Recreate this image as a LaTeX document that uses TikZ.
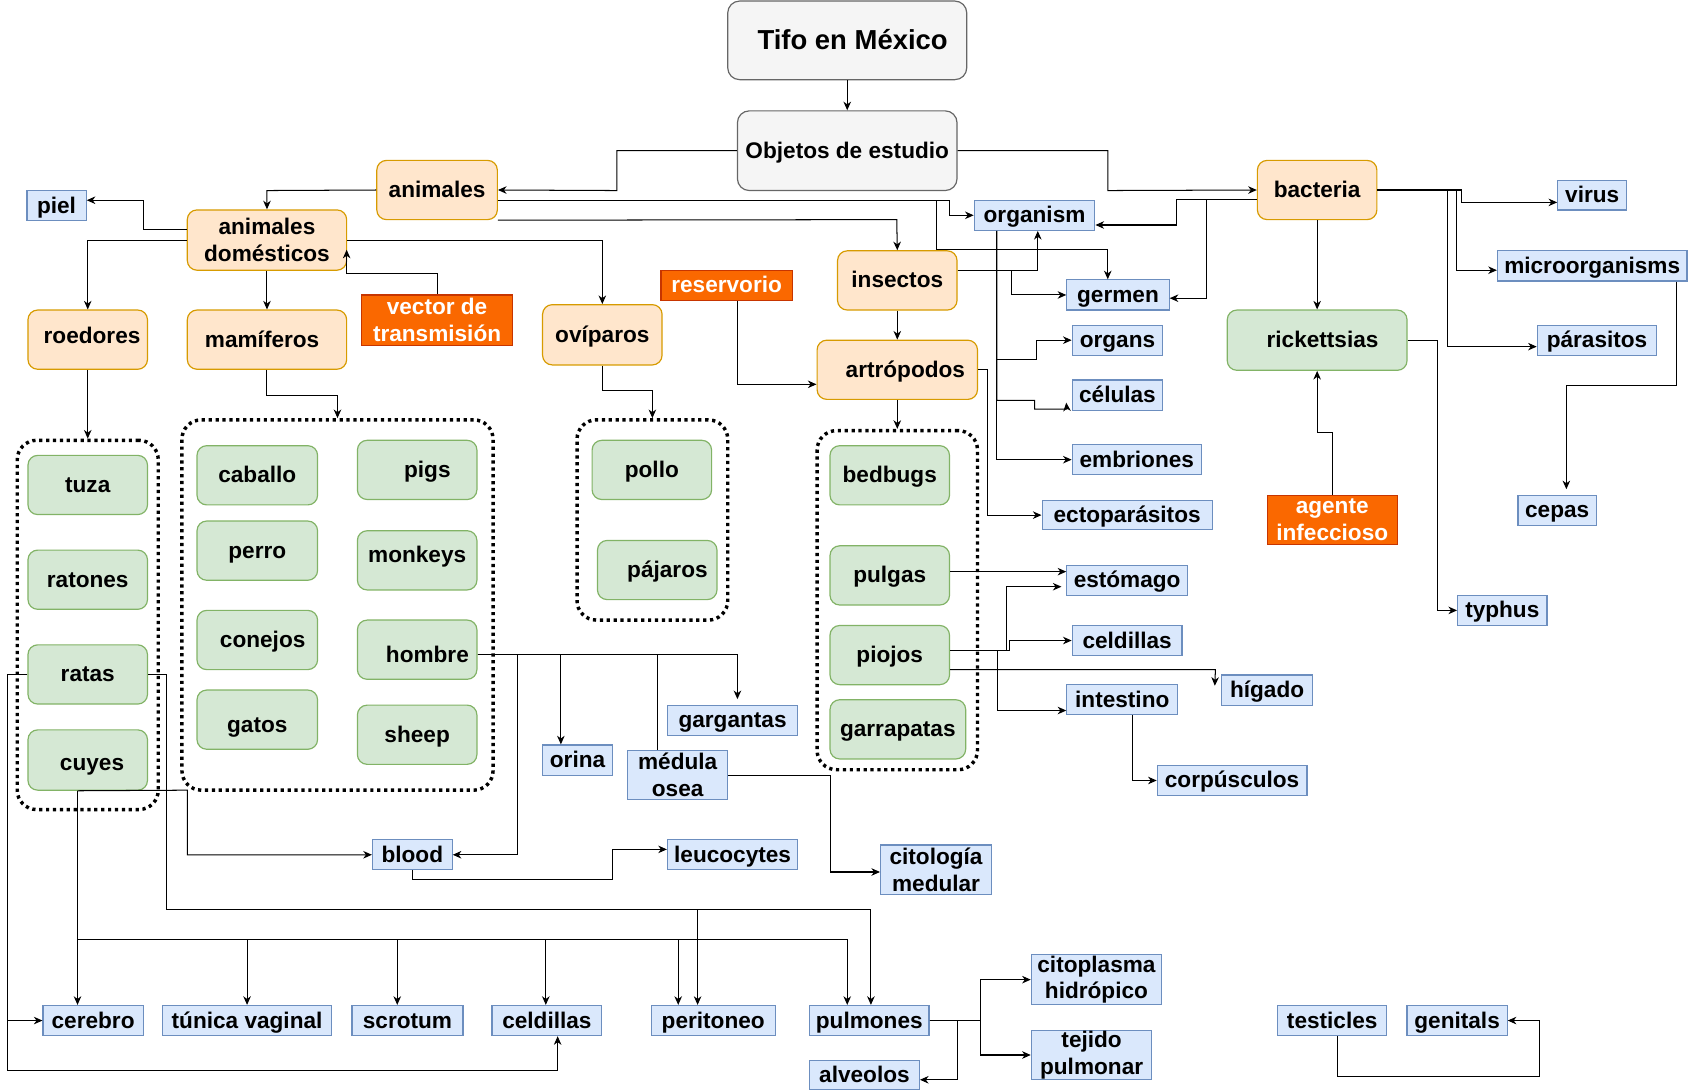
\documentclass[tikz,border=0pt]{standalone}
\usepackage{fontspec}
\setmainfont{Liberation Sans}
\usetikzlibrary{arrows.meta}
\definecolor{grayF}{HTML}{F5F5F5}
\definecolor{grayD}{HTML}{666666}
\definecolor{orF}{HTML}{FFE6CC}
\definecolor{orD}{HTML}{D79B00}
\definecolor{grF}{HTML}{D5E8D4}
\definecolor{grD}{HTML}{82B366}
\definecolor{blF}{HTML}{DAE8FC}
\definecolor{blD}{HTML}{6C8EBF}
\definecolor{rdF}{HTML}{FA6800}
\definecolor{rdD}{HTML}{C73500}
\newcommand{\bxn}[7]{\node[#1, minimum width={(#5)-(#3)}, minimum height={(#6)-(#4)}] (#2) at ({((#3)+(#5))/2},{((#4)+(#6))/2}) {#7};}
\tikzset{
  base/.style={inner sep=0pt, align=center, font=\bfseries\fontsize{21}{25}\selectfont, line width=1.1pt},
  sl/.style={text height=18.3pt, text depth=4.4pt},
  gcol/.style={fill=grayF, draw=grayD, rounded corners=11pt},
  ocol/.style={fill=orF, draw=orD, rounded corners=9pt},
  ncol/.style={fill=grF, draw=grD, rounded corners=9pt},
  bcol/.style={fill=blF, draw=blD},
  rcol/.style={fill=rdF, draw=rdD, text=white},
  gbox/.style={base, gcol, sl},
  obox/.style={base, ocol, sl},
  gnbox/.style={base, ncol, sl},
  bbox/.style={base, bcol, sl},
  rbox/.style={base, rcol, sl},
  obox2/.style={base, ocol},
  bbox2/.style={base, bcol},
  rbox2/.style={base, rcol},
  grp/.style={draw=black, line width=3.2pt, dash pattern=on 3pt off 3.4pt, rounded corners=18pt, inner sep=0pt},
  con/.style={draw=black, line width=0.95pt},
  arr/.style={con, -{Stealth[length=8pt,width=7pt,inset=2.5pt]}}
}
\begin{document}
\begin{tikzpicture}[x=1pt,y=-1pt]
\useasboundingbox (0,0) rectangle (1568,1013.4);
% groups
\bxn{grp}{grpR}{16}{409}{147}{752}{}
\bxn{grp}{grpM}{169}{390}{458}{734}{}
\bxn{grp}{grpO}{536}{390}{676}{576}{}
\bxn{grp}{grpA}{759}{400}{908}{715}{}
% top
\bxn{gbox,font=\bfseries\fontsize{25.5}{28}\selectfont,text height=21.5pt,text depth=5.3pt}{tifo}{676}{1}{898}{74}{\hspace*{10pt}Tifo en México}
\bxn{gbox}{obj}{685}{103}{889}{177}{Objetos de estudio}
% orange
\bxn{obox}{animales}{350}{149}{462}{204}{animales}
\bxn{obox2}{dom}{174}{195}{322}{251}{animales\\domésticos}
\bxn{obox,text height=12pt}{roedores}{26}{288}{137}{343}{\hspace*{8pt}roedores}
\bxn{obox}{mamiferos}{174}{288}{322}{343}{mamíferos\hspace*{9pt}}
\bxn{obox}{oviparos}{504}{283}{615}{339}{ovíparos}
\bxn{obox}{insectos}{778}{233}{889}{288}{insectos}
\bxn{obox}{artropodos}{759}{316}{908}{371}{\hspace*{15pt}artrópodos}
\bxn{obox}{bacteria}{1168}{149}{1279}{204}{bacteria}
% red
\bxn{rbox2}{vector}{336}{274}{476}{321}{vector de\\transmisión}
\bxn{rbox}{reservorio}{614}{251}{736}{279}{reservorio}
\bxn{rbox2}{agente}{1177}{460}{1298}{506}{agente\\infeccioso}
% green
\bxn{gnbox}{tuza}{26}{423}{137}{478}{tuza}
\bxn{gnbox}{ratones}{26}{511}{137}{566}{ratones}
\bxn{gnbox}{ratas}{26}{599}{137}{654}{ratas}
\bxn{gnbox,text height=23pt}{cuyes}{26}{678}{137}{734}{\hspace*{8pt}cuyes}
\bxn{gnbox}{caballo}{183}{414}{295}{469}{caballo}
\bxn{gnbox}{perro}{183}{484}{295}{539}{perro}
\bxn{gnbox}{conejos}{183}{567}{295}{622}{\hspace*{10pt}conejos}
\bxn{gnbox,text height=27.5pt}{gatos}{183}{641}{295}{696}{gatos}
\bxn{gnbox}{pigs}{332}{409}{443}{464}{\hspace*{19pt}pigs}
\bxn{gnbox,text height=9pt}{monkeys}{332}{493}{443}{548}{monkeys}
\bxn{gnbox,text height=27.5pt}{hombre}{332}{576}{443}{631}{\hspace*{19pt}hombre}
\bxn{gnbox}{sheep}{332}{655}{443}{710}{sheep}
\bxn{gnbox}{pollo}{550}{409}{661}{464}{pollo}
\bxn{gnbox}{pajaros}{555}{502}{666}{557}{\hspace*{19pt}pájaros}
\bxn{gnbox}{bedbugs}{771}{414}{882}{469}{bedbugs}
\bxn{gnbox}{pulgas}{771}{507}{882}{562}{pulgas}
\bxn{gnbox}{piojos}{771}{581}{882}{636}{piojos}
\bxn{gnbox}{garrapatas}{771}{650}{897}{705}{garrapatas}
\bxn{gnbox}{rickettsias}{1140}{288}{1307}{344}{\hspace*{10pt}rickettsias}
% blue
\bxn{bbox}{piel}{25}{177}{80}{205}{piel}
\bxn{bbox}{organism}{905}{186}{1017}{214}{organism}
\bxn{bbox}{germen}{991}{260}{1086}{288}{germen}
\bxn{bbox}{organs}{996}{302}{1080}{330}{organs}
\bxn{bbox}{celulas}{996}{353}{1080}{381}{células}
\bxn{bbox}{embriones}{996}{413}{1116}{441}{embriones}
\bxn{bbox}{ecto}{968}{465}{1126}{492}{ectoparásitos}
\bxn{bbox}{estomago}{991}{525}{1103}{553}{estómago}
\bxn{bbox}{celdillasR}{996}{581}{1098}{609}{celdillas}
\bxn{bbox}{higado}{1135}{627}{1219}{655}{hígado}
\bxn{bbox}{intestino}{991}{636}{1094}{664}{intestino}
\bxn{bbox}{corpusculos}{1075}{711}{1214}{739}{corpúsculos}
\bxn{bbox}{virus}{1447}{168}{1511}{195}{virus}
\bxn{bbox}{micro}{1391}{233}{1567}{261}{microorganisms}
\bxn{bbox}{parasitos}{1428}{302}{1539}{330}{párasitos}
\bxn{bbox}{cepas}{1410}{460}{1483}{488}{cepas}
\bxn{bbox}{typhus}{1354}{553}{1437}{581}{typhus}
\bxn{bbox}{gargantas}{620}{655}{741}{683}{gargantas}
\bxn{bbox}{orina}{504}{692}{569}{720}{orina}
\bxn{bbox2}{medula}{583}{697}{676}{743}{médula\\osea}
\bxn{bbox}{blood}{346}{780}{420}{808}{blood}
\bxn{bbox}{leucocytes}{620}{780}{741}{808}{leucocytes}
\bxn{bbox2}{citologia}{818}{785}{921}{831}{citología\\medular}
\bxn{bbox}{cerebro}{40}{934}{133}{962}{cerebro}
\bxn{bbox}{tunica}{151}{934}{308}{962}{túnica vaginal}
\bxn{bbox}{scrotum}{327}{934}{430}{962}{scrotum}
\bxn{bbox}{celdillasB}{457}{934}{559}{962}{celdillas}
\bxn{bbox}{peritoneo}{605}{934}{720}{962}{peritoneo}
\bxn{bbox}{pulmones}{752}{934}{863}{962}{pulmones}
\bxn{bbox}{alveolos}{752}{985}{854}{1012}{alveolos}
\bxn{bbox2}{citoplasma}{958}{887}{1079}{933}{citoplasma\\hidrópico}
\bxn{bbox2}{tejido}{958}{957}{1070}{1003}{tejido\\pulmonar}
\bxn{bbox}{testicles}{1187}{934}{1288}{962}{testicles}
\bxn{bbox}{genitals}{1307}{934}{1400}{962}{genitals}
% connectors: top
\draw[arr] (tifo.south) -- (obj.north);
\draw[arr] (obj.west) -- (573,140) -- (573,177) -- (animales.east);
\draw[arr] (obj.east) -- (1029,140) -- (1029,177) -- (bacteria.west);
\draw[arr] (animales.west) -- (248,177) -- (dom.north);
\draw[arr] (animales.east |- 0,186) -- (882,186) -- (882,200) -- (organism.west);
\draw[arr] (animales.east |- 0,186) -- (870,186) -- (870,232) -- (1029,232) -- (1029,232 |- germen.north);
\draw[arr] (animales.south east) -- (833,204) -- (insectos.north);
\draw[arr] (insectos.east |- 0,251) -- (964,251) -- (964,251 |- organism.south);
\draw[arr] (insectos.east |- 0,251) -- (940,251) -- (940,274) -- (germen.west);
\draw[arr] (insectos.south) -- (artropodos.north);
\draw[arr] (685,0 |- reservorio.south) -- (685,357) -- (0,357 -| artropodos.west);
\draw[arr] (artropodos.east) -- (917,343.5) -- (917,478.5) -- (ecto.west);
\draw[arr] (organism.south -| 926,0) -- (926,334) -- (963,334) -- (963,316) -- (organs.west);
\draw[arr] (organism.south -| 926,0) -- (926,372) -- (961,372) -- (961,380) -- (991,380) -- ([xshift=-5pt,yshift=-7pt]celulas.west);
\draw[arr] (organism.south -| 926,0) -- (926,427) -- (embriones.west);
% bacteria
\draw[arr] (bacteria.west |- 0,185) -- (1093,185) -- (1093,209) -- (0,209 -| organism.east);
\draw[arr] (bacteria.west |- 0,185) -- (1121,185) -- (1121,277) -- (0,277 -| germen.east);
\draw[arr] (bacteria.east) -- (1358,176.5) -- (1358,188) -- (0,188 -| virus.west);
\draw[arr] (bacteria.east) -- (1353,176.5) -- (1353,251) -- (0,251 -| micro.west);
\draw[arr] (bacteria.east) -- (1345,176.5) -- (1345,322) -- (0,322 -| parasitos.west);
\draw[arr] (bacteria.south) -- (rickettsias.north);
\draw[arr] (agente.north) -- (1237.5,402) -- (1223.5,402) -- (rickettsias.south);
\draw[arr] (rickettsias.east) -- (1335,316) -- (1335,567) -- (typhus.west);
\draw[arr] (1557,0 |- micro.south) -- (1557,358) -- (1455,358) -- ([yshift=5pt]1455,0 |- cepas.north);
% animales domesticos
\draw[arr] (dom.west |- 0,213) -- (133,213) -- (133,186) -- (0,186 -| piel.east);
\draw[arr] (dom.west) -- (81.5,223) -- (roedores.north);
\draw[arr] (dom.south) -- (mamiferos.north);
\draw[arr] (dom.east) -- (559.5,223) -- (oviparos.north);
\draw[arr] (vector.north) -- (406,254) -- (322,254) -- (322,232);
\draw[arr] (roedores.south) -- (grpR.north);
\draw[arr] (mamiferos.south) -- (248,367) -- (313.5,367) -- (grpM.north);
\draw[arr] (oviparos.south) -- (559.5,363) -- (606,363) -- (grpO.north);
\draw[arr] (artropodos.south) -- (grpA.north);
% arthropods
\draw[arr] (pulgas.east |- 0,531) -- (0,531 -| estomago.west);
\draw[arr] (piojos.east |- 0,604) -- (935,604) -- (935,545) -- (986,545);
\draw[arr] (piojos.east |- 0,604) -- (938,604) -- (938,595) -- (celdillasR.west);
\draw[arr] (piojos.east |- 0,604) -- (927,604) -- (927,660) -- (0,660 -| intestino.west);
\draw[arr] (piojos.east |- 0,622) -- (1129,622) -- ([xshift=-6pt,yshift=4pt]higado.west);
\draw[arr] (1052,0 |- intestino.south) -- (1052,725) -- (corpusculos.west);
% hombre
\draw[arr] (hombre.east |- 0,608) -- (685,608) -- ([yshift=5pt]685,0 |- gargantas.north);
\draw[arr] (hombre.east |- 0,608) -- (521,608) -- (521,0 |- orina.north);
\draw[con] (hombre.east |- 0,608) -- (611,608) -- (611,0 |- medula.north);
\draw[arr] (hombre.east |- 0,608) -- (481,608) -- (481,794) -- (blood.east);
% cuyes
\draw[arr] (72,0 |- cuyes.south) -- (174,734) -- (174,794) -- (blood.west);
\draw[arr] (72,0 |- cuyes.south) -- (72,0 |- cerebro.north);
\draw[arr] (72,0 |- cuyes.south) -- (72,873) -- (229.5,873) -- (tunica.north);
\draw[arr] (72,0 |- cuyes.south) -- (72,873) -- (369,873) -- (369,0 |- scrotum.north);
\draw[arr] (72,0 |- cuyes.south) -- (72,873) -- (507,873) -- (507,0 |- celdillasB.north);
\draw[arr] (72,0 |- cuyes.south) -- (72,873) -- (630,873) -- (630,0 |- peritoneo.north);
\draw[arr] (72,0 |- cuyes.south) -- (72,873) -- (787,873) -- (787,0 |- pulmones.north);
% ratas
\draw[arr] (ratas.west) -- (7,626.5) -- (7,948) -- (cerebro.west);
\draw[arr] (ratas.west) -- (7,626.5) -- (7,994) -- (518,994) -- (518,0 |- celdillasB.south);
\draw[arr] (ratas.east) -- (155,626.5) -- (155,845) -- (809,845) -- (809,0 |- pulmones.north);
\draw[arr] (ratas.east) -- (155,626.5) -- (155,845) -- (648,845) -- (648,0 |- peritoneo.north);
% blood, medula, pulmones
\draw[arr] (blood.south) -- (383,817) -- (569,817) -- (569,789) -- (0,789 -| leucocytes.west);
\draw[arr] (medula.east) -- (771,720) -- (771,810) -- (0,810 -| citologia.west);
\draw[arr] (pulmones.east) -- (911,948) -- (911,910) -- (citoplasma.west);
\draw[arr] (pulmones.east) -- (911,948) -- (911,980) -- (tejido.west);
\draw[arr] (pulmones.east) -- (889.5,948) -- (889.5,1003) -- (0,1003 -| alveolos.east);
\draw[arr] (1242,0 |- testicles.south) -- (1242,1000) -- (1430,1000) -- (1430,948) -- (genitals.east);
\end{tikzpicture}
\end{document}
